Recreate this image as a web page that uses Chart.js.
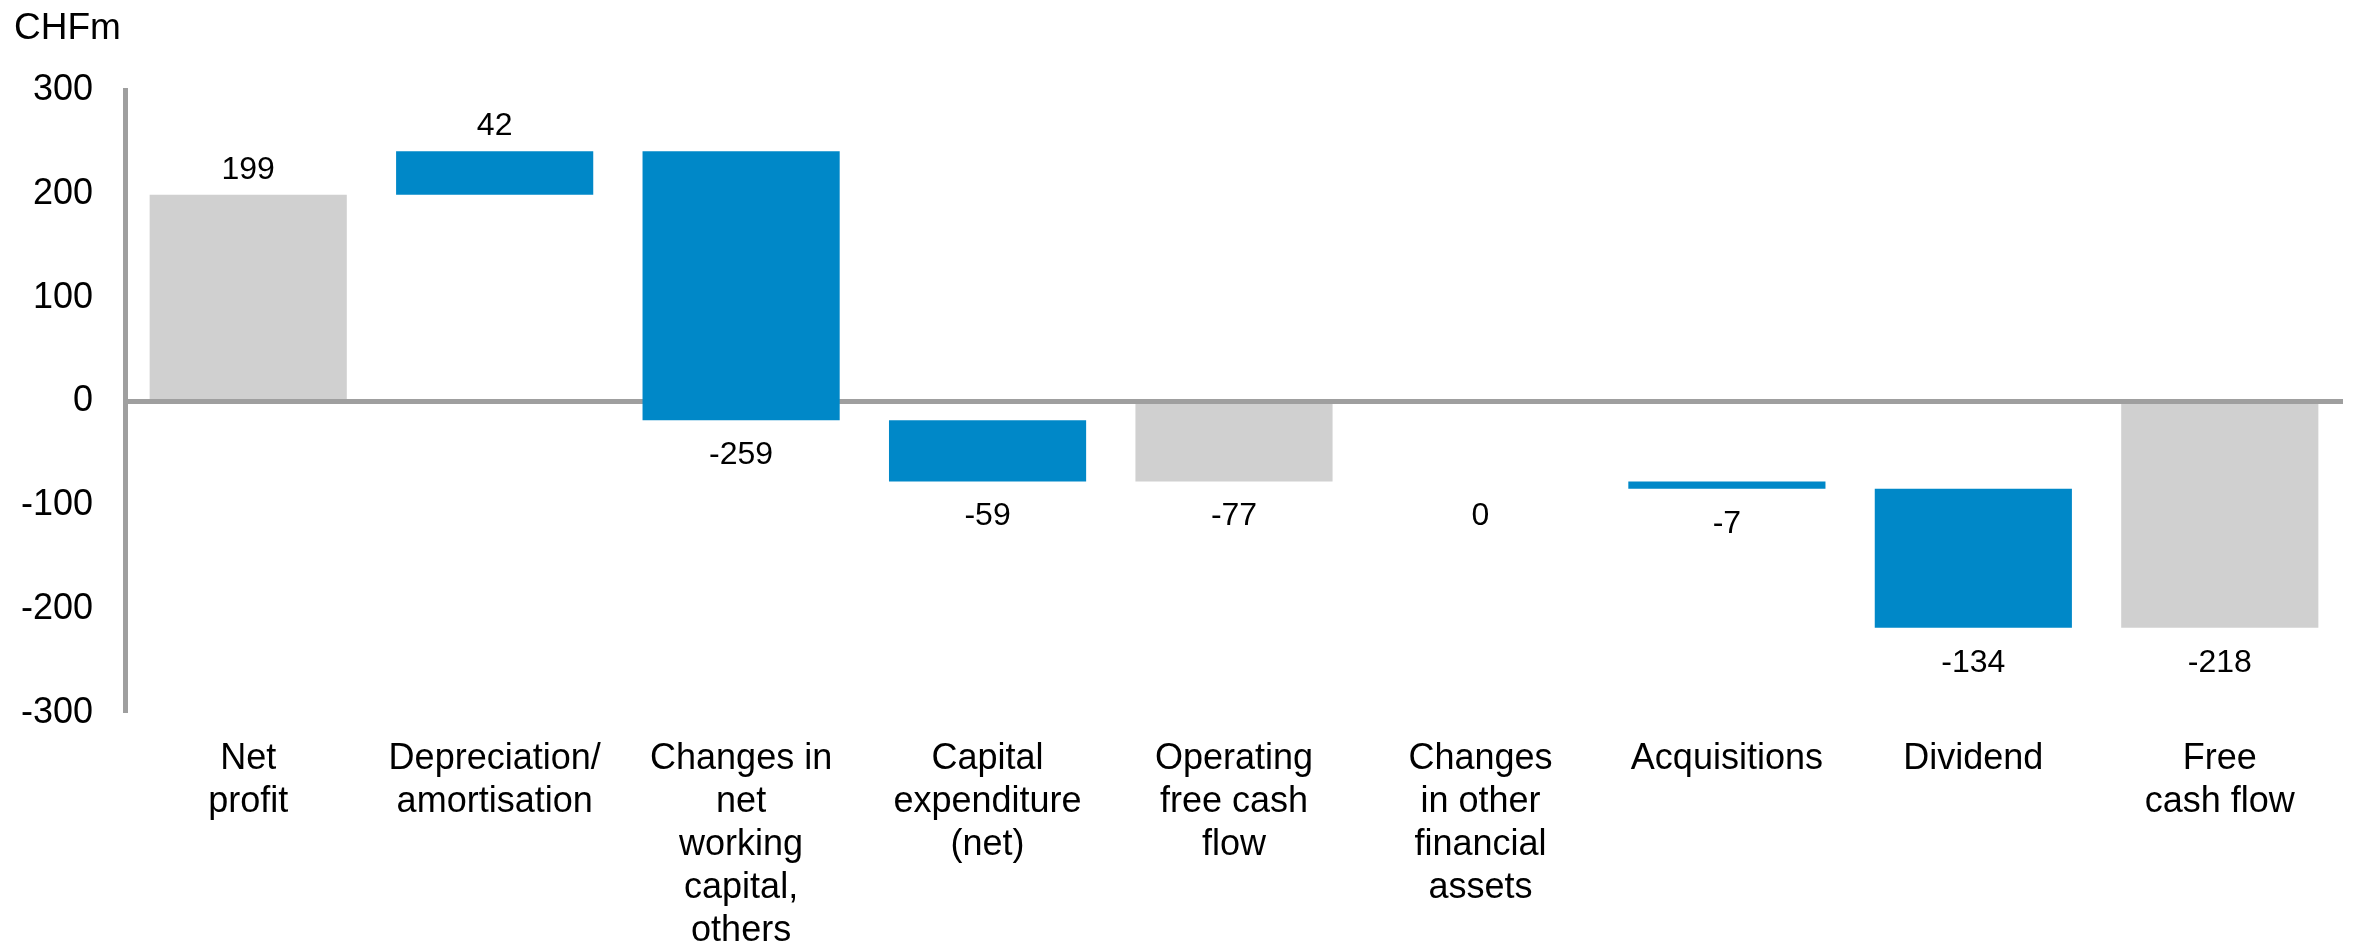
<!DOCTYPE html>
<html>
<head>
<meta charset="utf-8">
<script src="https://cdn.jsdelivr.net/npm/chart.js@4"></script>
<style>
  html, body { margin: 0; padding: 0; background: #ffffff; }
  #wrap { width: 2357px; height: 949px; position: relative; }
</style>
</head>
<body>
<div id="wrap"><canvas id="bridgeChart"></canvas></div>
<script>
// Catégories (libellés sur plusieurs lignes)
const categories = [
    ['Net', 'profit'],
    ['Depreciation/', 'amortisation'],
    ['Changes in', 'net', 'working', 'capital,', 'others'],
    ['Capital', 'expenditure', '(net)'],
    ['Operating', 'free cash', 'flow'],
    ['Changes', 'in other', 'financial', 'assets'],
    ['Acquisitions'],
    ['Dividend'],
    ['Free', 'cash flow']
];

// Valeurs affichées (CHFm)
const values = [199, 42, -259, -59, -77, 0, -7, -134, -218];

// true = barre de total (grise), false = variation (bleue)
const isTotal = [true, false, false, false, true, false, false, false, true];

// Graduations de l'axe Y
const yTicks = [-300, -200, -100, 0, 100, 200, 300];

const colors = {
    blue: '#0088c8',
    grey: '#d0d0d0',
    axis: '#9f9f9f',
    text: '#000000'
};

const fontFamily = "'Liberation Sans', Arial, sans-serif";

// Barres flottantes du waterfall
const ranges = [];
let running = 0;
values.forEach((v, i) => {
    if (isTotal[i]) {
        ranges.push([0, v]);
        running = v;
    } else {
        ranges.push([running, running + v]);
        running += v;
    }
});

// Étiquettes de valeurs au-dessus / en dessous des barres
const valueLabels = {
    id: 'valueLabels',
    afterDatasetsDraw(chart) {
        const ctx = chart.ctx;
        const meta = chart.getDatasetMeta(0);
        ctx.save();
        ctx.font = '32px ' + fontFamily;
        ctx.fillStyle = colors.text;
        ctx.textAlign = 'center';
        ctx.textBaseline = 'middle';
        meta.data.forEach((bar, i) => {
            const top = Math.min(bar.y, bar.base);
            const bottom = Math.max(bar.y, bar.base);
            const v = values[i];
            const y = v > 0 ? top - 25 : bottom + 35;
            ctx.fillText(String(v), bar.x, y);
        });
        ctx.restore();
    }
};

// Unité en haut à gauche
const unitLabel = {
    id: 'unitLabel',
    afterDraw(chart) {
        const ctx = chart.ctx;
        ctx.save();
        ctx.font = '37px ' + fontFamily;
        ctx.fillStyle = colors.text;
        ctx.textAlign = 'left';
        ctx.textBaseline = 'alphabetic';
        ctx.fillText('CHFm', 14, 39);
        ctx.restore();
    }
};

new Chart(document.getElementById('bridgeChart'), {
    type: 'bar',
    data: {
        labels: categories,
        datasets: [{
            data: ranges,
            backgroundColor: isTotal.map(t => t ? colors.grey : colors.blue),
            borderWidth: 0,
            borderSkipped: false,
            categoryPercentage: 0.8,
            barPercentage: 1.0
        }]
    },
    options: {
        responsive: true,
        maintainAspectRatio: false,
        animation: false,
        layout: {
            padding: { top: 90, right: 14, left: 0, bottom: 0 }
        },
        plugins: {
            legend: { display: false },
            tooltip: { enabled: false }
        },
        scales: {
            x: {
                grid: { display: false, drawTicks: false },
                border: { display: false },
                ticks: {
                    color: colors.text,
                    font: { family: fontFamily, size: 36, lineHeight: 1.2 },
                    padding: 24,
                    maxRotation: 0,
                    minRotation: 0,
                    autoSkip: false
                },
                afterFit(scale) { scale.height = 236; }
            },
            y: {
                min: -300,
                max: 300,
                afterBuildTicks(scale) {
                    scale.ticks = yTicks.map(v => ({ value: v }));
                },
                grid: {
                    drawTicks: false,
                    color: c => (c.tick && c.tick.value === 0) ? colors.axis : 'rgba(0,0,0,0)',
                    lineWidth: c => (c.tick && c.tick.value === 0) ? 5 : 0
                },
                border: { display: true, color: colors.axis, width: 5 },
                ticks: {
                    color: colors.text,
                    font: { family: fontFamily, size: 36 },
                    padding: 32
                },
                afterFit(scale) { scale.width = 125; }
            }
        }
    },
    plugins: [valueLabels, unitLabel]
});
</script>
</body>
</html>
